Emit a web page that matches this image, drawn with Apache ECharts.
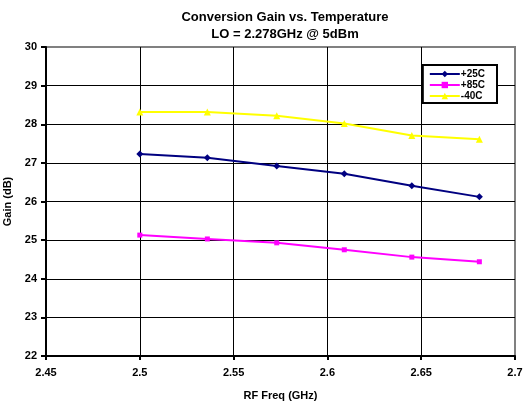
<!DOCTYPE html>
<html>
<head>
<meta charset="utf-8">
<script src="https://cdn.jsdelivr.net/npm/echarts@6/dist/echarts.min.js"></script>
<style>
  html, body { margin: 0; padding: 0; background: #fff; }
  #chart { width: 527px; height: 407px; }
</style>
</head>
<body>
<div id="chart"></div>
<script>
// RF frequencies (GHz) of the measured points
const freqs = [2.5, 2.536, 2.573, 2.609, 2.645, 2.681];
// gain (dB) per temperature
const gain25 = [27.23, 27.13, 26.92, 26.72, 26.41, 26.12];
const gain85 = [25.13, 25.03, 24.93, 24.75, 24.56, 24.44];
const gainM40 = [28.32, 28.32, 28.22, 28.02, 27.71, 27.61];
const seriesNames = ['+25C', '+85C', '-40C'];

const pairs = (ys) => freqs.map((x, i) => [x, ys[i]]);

const font = 'Liberation Sans, Arial, sans-serif';

const chart = echarts.init(document.getElementById('chart'));

const option = {
  animation: false,
  title: {
    text: 'Conversion Gain vs. Temperature\nLO = 2.278GHz @ 5dBm',
    left: 280,
    textAlign: 'center',
    top: 4,
    textStyle: { fontFamily: font, fontSize: 13, fontWeight: 'bold', color: '#000', lineHeight: 17 }
  },
  grid: {
    left: 46, right: 12, top: 47, bottom: 51,
    outerBoundsMode: 'none',
    show: true, borderColor: '#808080', borderWidth: 2
  },
  legend: {
    orient: 'vertical',
    right: 30,
    top: 65,
    itemGap: 1,
    itemWidth: 30,
    itemHeight: 8,
    padding: [4, 12, 2, 6],
    backgroundColor: '#fff',
    borderColor: '#000',
    borderWidth: 2,
    textStyle: { fontFamily: font, fontSize: 10, fontWeight: 'bold', color: '#000', padding: [0, 0, 0, -4] },
    data: seriesNames
  },
  xAxis: {
    type: 'value',
    min: 2.45, max: 2.7, interval: 0.05,
    name: 'RF Freq (GHz)',
    nameLocation: 'middle',
    nameGap: 34,
    nameTextStyle: { fontFamily: font, fontSize: 11, fontWeight: 'bold', color: '#000' },
    axisLine: { lineStyle: { color: '#000', width: 2 } },
    axisTick: { show: true, length: 4, lineStyle: { color: '#000', width: 2 } },
    axisLabel: { fontFamily: font, fontSize: 11, fontWeight: 'bold', color: '#000', margin: 11 },
    splitLine: { show: true, showMaxLine: false, lineStyle: { color: '#000', width: 1 } }
  },
  yAxis: {
    type: 'value',
    min: 22, max: 30, interval: 1,
    name: 'Gain (dB)',
    nameLocation: 'middle',
    nameGap: 28,
    nameTextStyle: { fontFamily: font, fontSize: 11, fontWeight: 'bold', color: '#000' },
    axisLine: { show: true, lineStyle: { color: '#000', width: 2 } },
    axisTick: { show: true, length: 5, lineStyle: { color: '#000', width: 2 } },
    axisLabel: { fontFamily: font, fontSize: 11, fontWeight: 'bold', color: '#000', margin: 9 },
    splitLine: { show: true, showMaxLine: false, lineStyle: { color: '#000', width: 1 } }
  },
  series: [
    {
      name: seriesNames[0], type: 'line', data: pairs(gain25),
      symbol: 'diamond', symbolSize: 7,
      itemStyle: { color: '#000080' },
      lineStyle: { color: '#000080', width: 2 }
    },
    {
      name: seriesNames[1], type: 'line', data: pairs(gain85),
      symbol: 'rect', symbolSize: 5,
      itemStyle: { color: '#ff00ff' },
      lineStyle: { color: '#ff00ff', width: 2 }
    },
    {
      name: seriesNames[2], type: 'line', data: pairs(gainM40),
      symbol: 'triangle', symbolSize: 7,
      itemStyle: { color: '#ffff00' },
      lineStyle: { color: '#ffff00', width: 2 }
    }
  ]
};

chart.setOption(option);
</script>
</body>
</html>
